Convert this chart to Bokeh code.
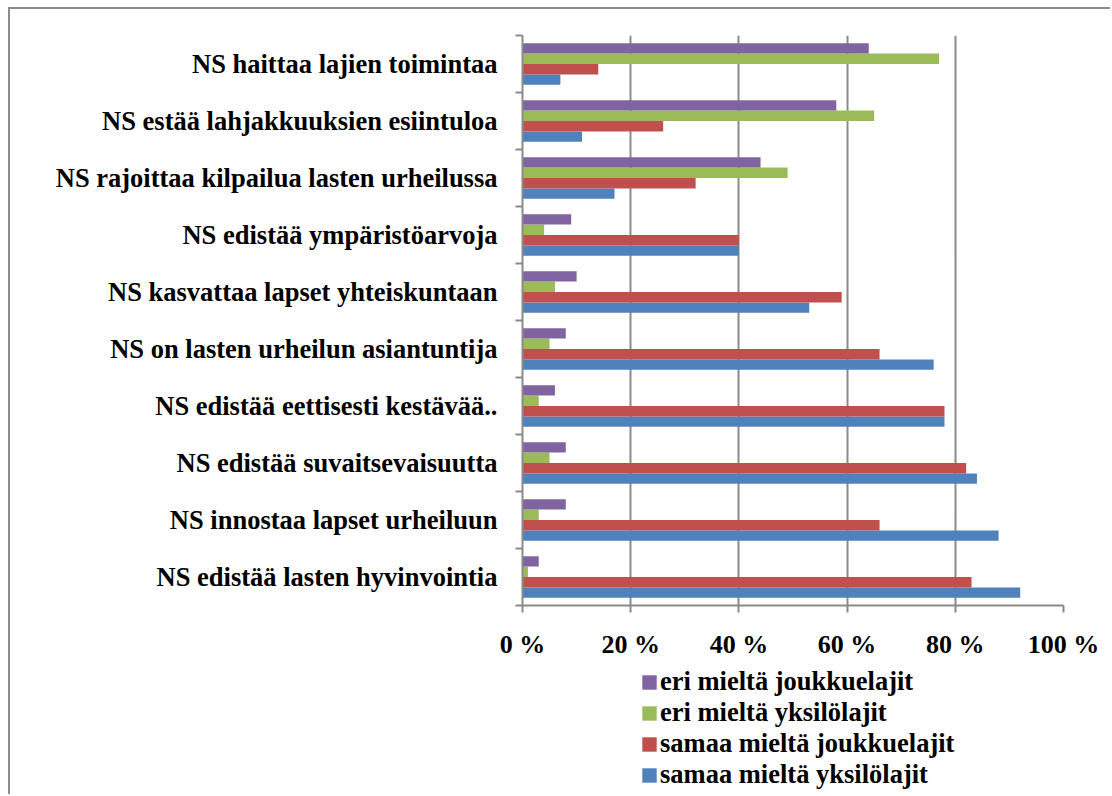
from bokeh.plotting import figure
from bokeh.layouts import column
from bokeh.models import Range1d, FixedTicker, Legend, LegendItem, ColumnDataSource
from bokeh.transform import dodge
from bokeh.embed import file_html
from bokeh.resources import INLINE

categories = [
    "NS edistää lasten hyvinvointia",
    "NS innostaa lapset urheiluun",
    "NS edistää suvaitsevaisuutta",
    "NS edistää eettisesti kestävää..",
    "NS on lasten urheilun asiantuntija",
    "NS kasvattaa lapset yhteiskuntaan",
    "NS edistää ympäristöarvoja",
    "NS rajoittaa kilpailua lasten urheilussa",
    "NS estää lahjakkuuksien esiintuloa",
    "NS haittaa lajien toimintaa",
]
samaa_yksilolajit = [92, 88, 84, 78, 76, 53, 40, 17, 11, 7]
samaa_joukkuelajit = [83, 66, 82, 78, 66, 59, 40, 32, 26, 14]
eri_yksilolajit = [1, 3, 5, 3, 5, 6, 4, 49, 65, 77]
eri_joukkuelajit = [3, 8, 8, 6, 8, 10, 9, 44, 58, 64]
series_names = ["samaa mieltä yksilölajit", "samaa mieltä joukkuelajit",
                "eri mieltä yksilölajit", "eri mieltä joukkuelajit"]
x_ticks = [0, 20, 40, 60, 80, 100]
x_tick_labels = ["0 %", "20 %", "40 %", "60 %", "80 %", "100 %"]

colors = ["#4F81BD", "#C0504D", "#9BBB59", "#8064A2"]
GRAY = "#8a8a8a"
FONT = "Liberation Serif"

idx = list(range(len(categories)))
src = ColumnDataSource(dict(idx=idx, s1=samaa_yksilolajit, s2=samaa_joukkuelajit,
                            s3=eri_yksilolajit, s4=eri_joukkuelajit))
series_cols = ["s1", "s2", "s3", "s4"]

p = figure(width=1100, height=656, output_backend="svg", toolbar_location=None,
           x_range=Range1d(0, 100), y_range=Range1d(-0.5, 9.5),
           min_border_left=512, min_border_right=47, min_border_top=26, min_border_bottom=60)
p.outline_line_color = None
p.background_fill_color = "white"
p.border_fill_color = "white"

h = 0.183
offsets = [-1.5 * h, -0.5 * h, 0.5 * h, 1.5 * h]
for col, off, c in zip(series_cols, offsets, colors):
    p.hbar(y=dodge("idx", off), right=col, left=0, height=h, source=src,
           fill_color=c, line_color=None)

# y axis
p.yaxis.ticker = FixedTicker(ticks=idx, minor_ticks=[i - 0.5 for i in range(len(categories) + 1)])
p.yaxis.major_label_overrides = {i: c for i, c in enumerate(categories)}
p.yaxis.major_tick_line_color = None
p.yaxis.major_tick_out = 0
p.yaxis.major_tick_in = 0
p.yaxis.minor_tick_line_color = GRAY
p.yaxis.minor_tick_line_width = 2
p.yaxis.minor_tick_out = 7
p.yaxis.minor_tick_in = 0
p.yaxis.axis_line_color = GRAY
p.yaxis.axis_line_width = 2
p.yaxis.major_label_standoff = 18
p.yaxis.major_label_text_font = FONT
p.yaxis.major_label_text_font_style = "bold"
p.yaxis.major_label_text_font_size = "26.5px"
p.yaxis.major_label_text_color = "black"

# x axis
p.xaxis.ticker = FixedTicker(ticks=x_ticks, minor_ticks=[])
p.xaxis.major_label_overrides = {t: l for t, l in zip(x_ticks, x_tick_labels)}
p.xaxis.major_tick_line_color = GRAY
p.xaxis.major_tick_line_width = 2
p.xaxis.major_tick_out = 7
p.xaxis.major_tick_in = 0
p.xaxis.minor_tick_line_color = None
p.xaxis.axis_line_color = GRAY
p.xaxis.axis_line_width = 2
p.xaxis.major_label_standoff = 17
p.xaxis.major_label_text_font = FONT
p.xaxis.major_label_text_font_style = "bold"
p.xaxis.major_label_text_font_size = "26px"
p.xaxis.major_label_text_color = "black"

p.ygrid.grid_line_color = None
p.xgrid.ticker = FixedTicker(ticks=x_ticks)
p.xgrid.grid_line_color = GRAY
p.xgrid.grid_line_width = 2

# legend figure below the chart (its frame is aligned with the chart's frame);
# it holds proxy renderers of the same series, kept outside its visible range
pl = figure(width=1100, height=129, output_backend="svg", toolbar_location=None,
            x_range=Range1d(0, 100), y_range=Range1d(1000, 1001),
            x_axis_location=None, y_axis_location=None, min_border=0)
pl.outline_line_color = None
pl.xgrid.grid_line_color = None
pl.ygrid.grid_line_color = None
pl.background_fill_color = "white"
pl.border_fill_color = "white"
legend_renderers = [pl.hbar(y="idx", right=col, left=0, height=h, source=src,
                            fill_color=c, line_color=None)
                    for col, c in zip(series_cols, colors)]
items = [LegendItem(label=series_names[i], renderers=[legend_renderers[i]]) for i in [3, 2, 1, 0]]
legend = Legend(items=items, location=(118, 4), orientation="vertical",
                padding=0, margin=0, spacing=0, label_height=30,
                glyph_width=18, glyph_height=18, label_standoff=2,
                border_line_color=None, background_fill_alpha=0,
                label_text_font=FONT, label_text_font_style="bold",
                label_text_font_size="26.5px", label_text_color="black")
pl.add_layout(legend, "center")

layout = column(p, pl, spacing=0,
                styles={"border-top": "2px solid #8c8c8c", "border-left": "2px solid #8c8c8c",
                        "margin-left": "8px", "margin-top": "7px"})

open("out.html", "w").write(file_html(layout, INLINE))
